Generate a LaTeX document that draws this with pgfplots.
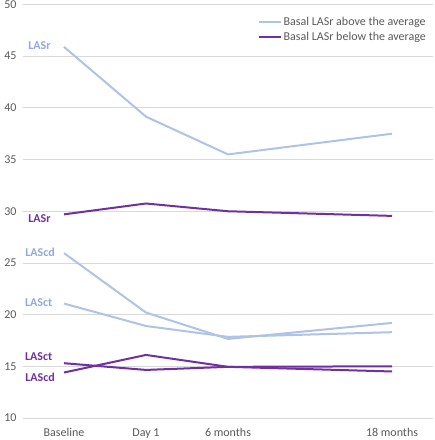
\documentclass[border=0pt]{standalone}
\usepackage{pgfplots}
\pgfplotsset{compat=1.18}
\usepackage{fontspec}
\setmainfont{Carlito}
\definecolor{lblue}{HTML}{AEC3E6}
\definecolor{lbluetext}{HTML}{8FAADC}
\definecolor{dpurple}{HTML}{7030A0}
\definecolor{tickgray}{HTML}{595959}
\definecolor{gridgray}{HTML}{D9D9D9}
\begin{document}
\begin{tikzpicture}
\begin{axis}[
  scale only axis,
  width=410bp, height=413.5bp,
  xmin=-0.5, xmax=4.5,
  ymin=10, ymax=50,
  xtick={0,1,2,4},
  xticklabels={Baseline, Day 1, 6 months, 18 months},
  ytick={10,15,...,50},
  axis line style={draw=none},
  major tick length=0pt,
  ymajorgrids,
  grid style={gridgray, line width=0.8bp},
  tick label style={font=\fontsize{12bp}{14bp}\selectfont, text=tickgray},
  /pgf/number format/assume math mode=true,
  yticklabel style={anchor=east, xshift=-3bp},
  xticklabel style={yshift=-7bp},
  clip=false,
  legend style={draw=none, fill=none, at={(rel axis cs:0.988,0.975)}, anchor=north east,
    font=\fontsize{12bp}{14bp}\selectfont, text=tickgray, row sep=1bp,
    legend cell align=left, inner sep=0pt},
  legend image code/.code={\draw[#1, line width=2bp] (0bp,0bp) -- (22bp,0bp);},
]
\addplot[lblue, line width=2bp] coordinates {(0,45.9) (1,39.15) (2,35.5) (4,37.5)};
\addlegendentry{Basal LASr above the average}
\addplot[dpurple, line width=2bp] coordinates {(0,29.7) (1,30.75) (2,30.0) (4,29.55)};
\addlegendentry{Basal LASr below the average}
\addplot[lblue, line width=2bp, forget plot] coordinates {(0,25.95) (1,20.2) (2,17.65) (4,19.2)};
\addplot[lblue, line width=2bp, forget plot] coordinates {(0,21.07) (1,18.9) (2,17.85) (4,18.3)};
\addplot[dpurple, line width=2bp, forget plot] coordinates {(0,15.3) (1,14.65) (2,14.95) (4,15.0)};
\addplot[dpurple, line width=2bp, forget plot] coordinates {(0,14.4) (1,16.1) (2,14.95) (4,14.5)};
\begin{scope}[every node/.style={anchor=east, inner sep=0pt, font=\bfseries\fontsize{12bp}{14bp}\selectfont}]
\node[text=lbluetext] at (axis cs:-0.16,46.05) {LASr};
\node[text=dpurple] at (axis cs:-0.16,29.3) {LASr};
\node[text=lbluetext] at (axis cs:-0.11,26.0) {LAScd};
\node[text=lbluetext] at (axis cs:-0.14,21.2) {LASct};
\node[text=dpurple] at (axis cs:-0.14,15.95) {LASct};
\node[text=dpurple] at (axis cs:-0.11,13.95) {LAScd};
\end{scope}
\end{axis}
\pgfresetboundingbox
\path[use as bounding box] (-23bp,-22bp) rectangle (412bp,418bp);
\end{tikzpicture}
\end{document}
